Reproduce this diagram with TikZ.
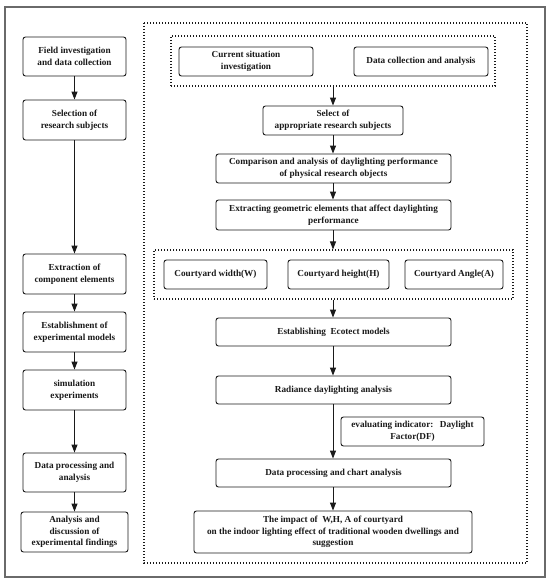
\documentclass[tikz,border=0pt]{standalone}
\usepackage{fontspec}
\setmainfont{Liberation Serif}
\usetikzlibrary{arrows.meta}
\definecolor{ink}{HTML}{1A1A1A}
\definecolor{frame}{HTML}{6A6A6A}
\begin{document}
\begin{tikzpicture}[x=1pt,y=-1pt,
  box/.style={draw=ink, line width=0.9pt, rounded corners=2.5pt, align=center, inner sep=0pt,
    text=ink, font=\bfseries\fontsize{9.2}{11.7}\selectfont},
  dotframe/.style={draw=ink, line width=1.1pt, dash pattern=on 1.1pt off 1.9pt},
  arr/.style={draw=ink, line width=0.9pt, -{Triangle[length=8pt,width=6pt]}}
]
\useasboundingbox (0,0) rectangle (550,586);
\fill[white] (0,0) rectangle (550,586);
\draw[frame, line width=1.4pt] (5,7) rectangle (545,577);
\draw[dotframe] (144,23) rectangle (527,563);
% left column
\node[box, minimum width=103pt, minimum height=39pt] (n1) at (74.5,56.5) {Field investigation\\and data collection};
\node[box, minimum width=103pt, minimum height=40pt] (n2) at (74.5,120) {Selection of\\research subjects};
\node[box, minimum width=103pt, minimum height=40pt] (n3) at (74.5,274) {Extraction of\\component elements};
\node[box, minimum width=103pt, minimum height=40pt] (n4) at (74.5,332) {Establishment of\\experimental models};
\node[box, minimum width=103pt, minimum height=40pt] (n5) at (74.5,390) {simulation\\experiments};
\node[box, minimum width=103pt, minimum height=39pt] (n6) at (74.5,472.5) {Data processing and\\analysis};
\node[box, minimum width=107pt, minimum height=40pt] (n7) at (74.5,532) {Analysis and\\discussion of\\experimental findings};
\draw[arr] (n1) -- (n2);
\draw[arr] (n2) -- (n3);
\draw[arr] (n3) -- (n4);
\draw[arr] (n4) -- (n5);
\draw[arr] (n5) -- (n6);
\draw[arr] (n6) -- (n7);
% right column
\node[dotframe, inner sep=0pt, minimum width=324pt, minimum height=50pt] (f1) at (333,61) {};
\node[box, minimum width=134pt, minimum height=29pt] (r1) at (246,61.5) {Current situation\\investigation};
\node[box, minimum width=134pt, minimum height=29pt] (r2) at (421,61.5) {Data collection and analysis};
\node[box, minimum width=140pt, minimum height=29pt] (r3) at (333,120.5) {Select of\\appropriate research subjects};
\node[box, minimum width=235pt, minimum height=29pt] (r4) at (333.5,168.5) {Comparison and analysis of daylighting performance\\of physical research objects};
\node[box, minimum width=235pt, minimum height=30pt] (r5) at (333.5,215) {Extracting geometric elements that affect daylighting\\performance};
\node[dotframe, inner sep=0pt, minimum width=359pt, minimum height=49pt] (f2) at (333.5,274.5) {};
\node[box, minimum width=103pt, minimum height=29pt] (c1) at (215.5,274.5) {Courtyard width(W)};
\node[box, minimum width=101pt, minimum height=29pt] (c2) at (338.5,274.5) {Courtyard height(H)};
\node[box, minimum width=98pt, minimum height=29pt] (c3) at (454,274.5) {Courtyard Angle(A)};
\node[box, minimum width=235pt, minimum height=28pt] (r6) at (333.5,332) {Establishing\ \ Ecotect models};
\node[box, minimum width=235pt, minimum height=28pt] (r7) at (333.5,390) {Radiance daylighting analysis};
\node[box, minimum width=143pt, minimum height=29pt] (e1) at (412.5,431.5) {evaluating indicator:\hspace{0.7em}Daylight\\Factor(DF)};
\node[box, minimum width=235pt, minimum height=28pt] (r8) at (333.5,473) {Data processing and chart analysis};
\node[box, minimum width=278pt, minimum height=42pt] (r9) at (333,532) {The impact of\ \ W,H, A of courtyard\\on the indoor lighting effect of traditional wooden dwellings and\\suggestion};
\draw[arr] (f1.south -| r3) -- (r3.north);
\draw[arr] (r3.south) -- (r3.south |- r4.north);
\draw[arr] (r3.south |- r4.south) -- (r3.south |- r5.north);
\draw[arr] (r3.south |- r5.south) -- (r3.south |- f2.north);
\draw[arr] (r3.south |- f2.south) -- (r3.south |- r6.north);
\draw[arr] (r3.south |- r6.south) -- (r3.south |- r7.north);
\draw[arr] (r3.south |- r7.south) -- (r3.south |- r8.north);
\draw[arr] (r3.south |- r8.south) -- (r9.north);
\end{tikzpicture}
\end{document}
